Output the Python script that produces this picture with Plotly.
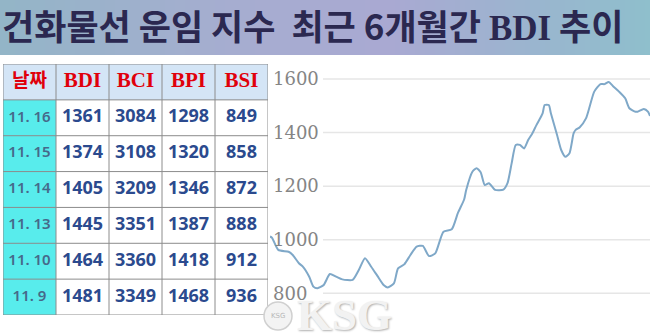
import plotly.graph_objects as go

# ---------------- data ----------------
title_text = "건화물선 운임 지수  최근 6개월간 <span style='font-family:Liberation Serif'>BDI</span> 추이"

table_header = ["날짜", "BDI", "BCI", "BPI", "BSI"]
dates = ["11. 16", "11. 15", "11. 14", "11. 13", "11. 10", "11. 9"]
bdi = [1361, 1374, 1405, 1445, 1464, 1481]
bci = [3084, 3108, 3209, 3351, 3360, 3349]
bpi = [1298, 1320, 1346, 1387, 1418, 1468]
bsi = [849, 858, 872, 888, 912, 936]

# BDI trend over last ~6 months (day offset, index value)
trend_day = [0, 1, 4, 9, 11, 14, 16, 19, 21, 23, 26, 29, 32, 35, 40, 43, 46, 49, 52, 55,
             57, 60, 62, 65, 68, 71, 74, 77, 80, 84, 88, 91, 94, 95, 98, 100, 102, 104, 106,
             109, 113, 115, 117, 119, 121, 123, 125, 127, 129, 132, 133, 135, 136, 139, 141,
             143, 145, 147, 148, 150, 153, 155, 157, 160, 162, 164, 166, 169, 172, 174, 177,
             178, 181, 183, 184]
trend_bdi = [1012, 1007, 962, 955, 943, 912, 899, 862, 825, 819, 831, 872, 862, 852, 850, 887,
             931, 899, 865, 831, 822, 837, 893, 908, 943, 974, 977, 939, 949, 1030, 1039, 1100,
             1150, 1186, 1254, 1267, 1252, 1204, 1211, 1186, 1187, 1211, 1285, 1354, 1354, 1341,
             1372, 1397, 1428, 1472, 1503, 1503, 1472, 1391, 1335, 1310, 1323, 1397, 1410, 1420,
             1453, 1503, 1553, 1581, 1581, 1589, 1574, 1553, 1528, 1491, 1478, 1478, 1488, 1478,
             1462]
y_ticks = [800, 1000, 1200, 1400, 1600]

# ---------------- figure ----------------
W, H = 650, 334
fig = go.Figure()

# ---- line chart ----
fig.add_trace(go.Scatter(
    x=trend_day, y=trend_bdi, mode="lines",
    line=dict(color="#7fa8c8", width=2, shape="spline", smoothing=0.6),
    hoverinfo="skip", showlegend=False,
))

# ---- table drawn on its own axes (x2/y2) ----
ncol = len(table_header)
nrow = len(dates)
value_cols = [bdi, bci, bpi, bsi]

z = [[2] * ncol] + [[1] + [0] * (ncol - 1) for _ in dates]
fig.add_trace(go.Heatmap(
    z=z, x=list(range(ncol)), y=list(range(nrow + 1)),
    colorscale=[[0, "#ffffff"], [0.5, "#58ecec"], [1, "#d4e5f6"]],
    zmin=0, zmax=2, showscale=False, hoverinfo="skip",
    xaxis="x2", yaxis="y2",
))

# header texts
fig.add_trace(go.Scatter(
    x=list(range(ncol)), y=[0] * ncol, mode="text",
    text=["<b>%s</b>" % h for h in table_header],
    textposition="middle center",
    textfont=dict(family=["Noto Sans CJK KR"] + ["Liberation Serif"] * (ncol - 1),
                  size=[19] + [21] * (ncol - 1), color="#e0000b"),
    xaxis="x2", yaxis="y2", hoverinfo="skip", showlegend=False,
))
# date texts
fig.add_trace(go.Scatter(
    x=[0] * nrow, y=list(range(1, nrow + 1)), mode="text",
    text=dates, textposition="middle center",
    textfont=dict(family="Noto Sans", size=15, color="#46698a", weight=600),
    xaxis="x2", yaxis="y2", hoverinfo="skip", showlegend=False,
))
# value texts
vx, vy, vt = [], [], []
for ci, col in enumerate(value_cols):
    for ri, v in enumerate(col):
        vx.append(ci + 1)
        vy.append(ri + 1)
        vt.append("<b>%d</b>" % v)
fig.add_trace(go.Scatter(
    x=vx, y=vy, mode="text", text=vt, textposition="middle center",
    textfont=dict(family="Noto Sans", size=18, color="#2b4a8e"),
    xaxis="x2", yaxis="y2", hoverinfo="skip", showlegend=False,
))

shapes = []

# table borders
for i in range(ncol + 1):
    shapes.append(dict(type="line", xref="x2", yref="y2", x0=i - 0.5, x1=i - 0.5,
                       y0=-0.5, y1=nrow + 0.5, line=dict(color="#8c8c8c", width=1)))
for j in range(nrow + 2):
    shapes.append(dict(type="line", xref="x2", yref="y2", x0=-0.5, x1=ncol - 0.5,
                       y0=j - 0.5, y1=j - 0.5, line=dict(color="#8c8c8c", width=1)))

# banner gradient
stops = [(0.0, (0x93, 0xb5, 0xc7)), (0.35, (0xa6, 0xad, 0xd0)),
         (0.6, (0xa9, 0xa9, 0xd2)), (1.0, (0x8e, 0xbf, 0xcc))]


def grad(t):
    for (t0, c0), (t1, c1) in zip(stops[:-1], stops[1:]):
        if t0 <= t <= t1:
            f = (t - t0) / (t1 - t0)
            return "rgb(%d,%d,%d)" % tuple(round(a + (b - a) * f) for a, b in zip(c0, c1))
    return "rgb(%d,%d,%d)" % stops[-1][1]


step = 5
for i in range(0, W, step):
    shapes.append(dict(type="rect", xref="paper", yref="paper",
                       x0=i / W, x1=(i + step + 1) / W, y0=1 - 55 / H, y1=1,
                       fillcolor=grad(i / W), line=dict(width=0), layer="below"))

# chart gridlines (start right of the tick labels)
for v in y_ticks:
    shapes.append(dict(type="line", xref="paper", yref="y", x0=323 / W, x1=1, y0=v, y1=v,
                       line=dict(color="#e6e6e6", width=1.5), layer="below"))

# watermark logo circle
shapes.append(dict(type="circle", xref="paper", yref="paper",
                   x0=264 / W, x1=292 / W, y0=1 - 330 / H, y1=1 - 302 / H,
                   fillcolor="#f3f3f3", line=dict(color="#d0d0d0", width=1.5)))

annotations = [
    dict(text="<b>" + title_text + "</b>", xref="paper", yref="paper",
         x=0, y=1 - 25 / H, xanchor="left", yanchor="middle", showarrow=False,
         font=dict(family="Noto Sans CJK KR", size=35, color="#2b2850", weight=900)),
    dict(text="<b>KSG</b>", xref="paper", yref="paper",
         x=344 / W, y=1 - 315 / H, xanchor="center", yanchor="middle", showarrow=False,
         font=dict(family="Liberation Serif", size=45, color="#f2f2f2",
                   shadow="1px 1px 2px #b0b0b0")),
    dict(text="KSG", xref="paper", yref="paper",
         x=278 / W, y=1 - 316 / H, xanchor="center", yanchor="middle", showarrow=False,
         font=dict(family="DejaVu Sans", size=7, color="#b8b8b8")),
]

fig.update_layout(
    width=W, height=H,
    margin=dict(l=0, r=0, t=0, b=0),
    paper_bgcolor="white", plot_bgcolor="rgba(0,0,0,0)",
    showlegend=False,
    xaxis=dict(domain=[270 / W, 1], range=[0, 184], visible=False, fixedrange=True),
    yaxis=dict(domain=[0, 1 - 56 / H], range=[648, 1686], tickvals=y_ticks,
               ticklabelposition="inside", ticks="", showgrid=False, zeroline=False,
               showline=False, fixedrange=True,
               tickfont=dict(family="DejaVu Serif", size=18, color="#858585")),
    xaxis2=dict(domain=[3 / W, 268 / W], range=[-0.5, ncol - 0.5], visible=False,
                fixedrange=True, anchor="y2"),
    yaxis2=dict(domain=[1 - 315 / H, 1 - 64 / H], range=[nrow + 0.5, -0.5], visible=False,
                fixedrange=True, anchor="x2"),
    shapes=shapes,
    annotations=annotations,
)

fig.write_html("out.html")
